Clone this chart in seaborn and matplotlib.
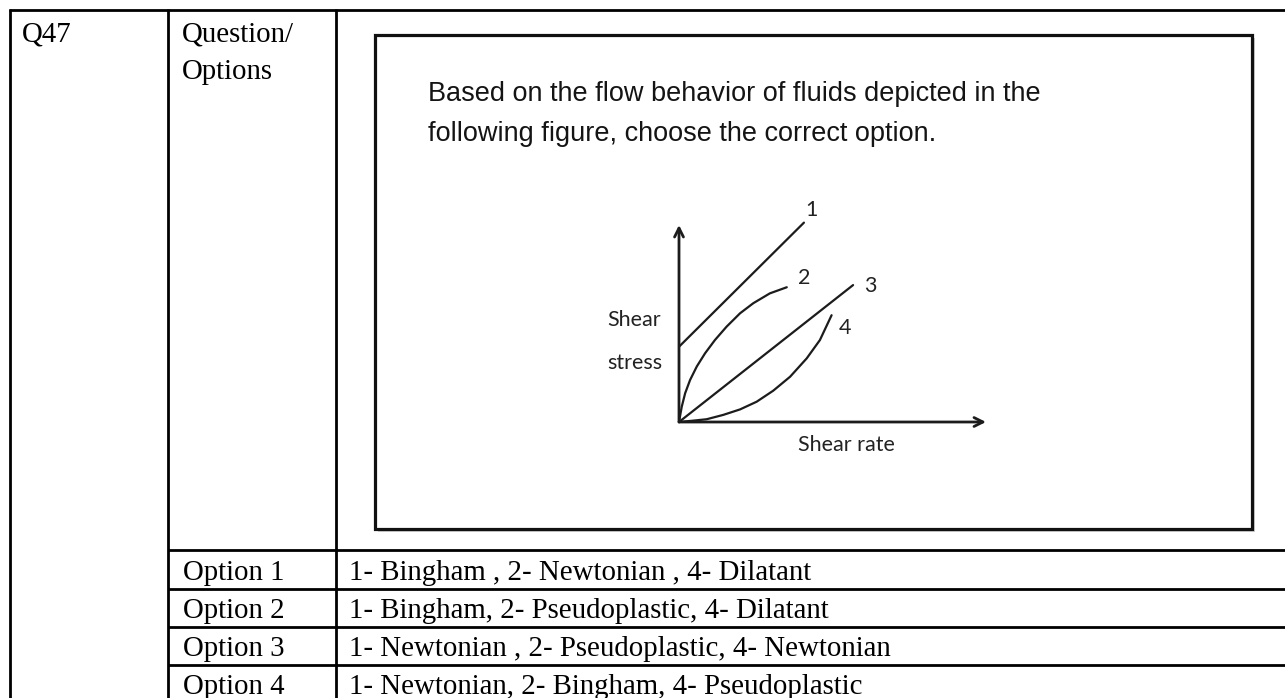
import pandas as pd
import matplotlib
matplotlib.use("Agg")
import matplotlib.pyplot as plt
import seaborn as sns
from matplotlib.patches import Rectangle

# Curve data (shear rate, shear stress), arbitrary units 0-10
bingham_rate = [0.0, 4.07]
bingham_stress = [3.82, 10.12]

pseudo_rate = [0.0, 0.09, 0.20, 0.36, 0.58, 0.85, 1.17, 1.55, 1.99, 2.42, 2.96, 3.51]
pseudo_stress = [0.0, 0.78, 1.46, 2.13, 2.82, 3.49, 4.16, 4.84, 5.52, 6.03, 6.53, 6.84]

newton_rate = [0.0, 5.67]
newton_stress = [0.0, 6.95]

dilat_rate = [0.0, 0.47, 0.90, 1.44, 1.99, 2.53, 3.07, 3.62, 4.16, 4.59, 4.97]
dilat_stress = [0.0, 0.07, 0.14, 0.36, 0.64, 1.03, 1.59, 2.30, 3.23, 4.16, 5.42]

curve_labels = ["1", "2", "3", "4"]
label_x = [4.33, 4.07, 6.22, 5.41]
label_y = [10.76, 7.31, 6.90, 4.77]

question_lines = ["Based on the flow behavior of fluids depicted in the",
                  "following figure, choose the correct option."]
option_names = ["Option 1", "Option 2", "Option 3", "Option 4"]
option_texts = ["1- Bingham , 2- Newtonian , 4- Dilatant",
                "1- Bingham, 2- Pseudoplastic, 4- Dilatant",
                "1- Newtonian , 2- Pseudoplastic, 4- Newtonian",
                "1- Newtonian, 2- Bingham, 4- Pseudoplastic"]

df = pd.concat([
    pd.DataFrame({"rate": bingham_rate, "stress": bingham_stress, "fluid": "1"}),
    pd.DataFrame({"rate": pseudo_rate, "stress": pseudo_stress, "fluid": "2"}),
    pd.DataFrame({"rate": newton_rate, "stress": newton_stress, "fluid": "3"}),
    pd.DataFrame({"rate": dilat_rate, "stress": dilat_stress, "fluid": "4"}),
], ignore_index=True)

sns.set_theme(style="white")
plt.rcParams["text.color"] = "black"

W, H = 1285, 698
fig = plt.figure(figsize=(W / 100, H / 100), dpi=100)
fig.patch.set_facecolor("white")

# page canvas in pixel coordinates
ax0 = fig.add_axes([0, 0, 1, 1])
ax0.set_xlim(0, W)
ax0.set_ylim(H, 0)
ax0.axis("off")

lw_tab = 2.0
ax0.hlines(10, 9, W, color="black", lw=lw_tab)
ax0.vlines([10, 168, 336], 9, H, color="black", lw=lw_tab)
ax0.hlines([550, 589, 627, 665], 168, W, color="black", lw=lw_tab)

serif = "Liberation Serif"
fs_tab = 20.8
ax0.text(22, 42, "Q47", family=serif, fontsize=fs_tab, va="baseline")
ax0.text(182, 42, "Question/", family=serif, fontsize=fs_tab, va="baseline")
ax0.text(182, 79, "Options", family=serif, fontsize=fs_tab, va="baseline")
for i, (name, txt) in enumerate(zip(option_names, option_texts)):
    base = 580 + i * 38
    ax0.text(183, base, name, family=serif, fontsize=fs_tab, va="baseline")
    ax0.text(349, base, txt, family=serif, fontsize=fs_tab, va="baseline")

# picture frame with soft shadow on the lower right
ax0.add_patch(Rectangle((378, 38), 877, 494, fc="#d0d0d0", ec="none"))
ax0.add_patch(Rectangle((375, 35), 877, 494, fc="white", ec="#111111", lw=2.3))

for j, line in enumerate(question_lines):
    ax0.text(428, 101 + j * 40, line, family="Liberation Sans", fontsize=19.5,
             color="#141414", va="baseline")

lab_font = "Lato"
ax0.text(607, 320, "Shear", family=lab_font, fontsize=15.5, color="#222222", va="center")
ax0.text(607, 363, "stress", family=lab_font, fontsize=15.5, color="#222222", va="center")
ax0.text(798, 445, "Shear rate", family=lab_font, fontsize=15.5, color="#222222", va="center")

# the rheology sketch
ax = fig.add_axes([679 / W, 1 - 422 / H, 307 / W, 197 / H])
ax.set_xlim(0, 10)
ax.set_ylim(0, 10)
ax.axis("off")
sns.lineplot(data=df, x="rate", y="stress", hue="fluid", units="fluid", estimator=None,
             sort=False, palette=["#1c1c1c"] * 4, lw=1.6, legend=False, ax=ax)
for line in ax.lines:
    line.set_clip_on(False)
    line.set_solid_joinstyle("round")
for lab, lx, ly in zip(curve_labels, label_x, label_y):
    ax.text(lx, ly, lab, family=lab_font, fontsize=15.5, color="#222222",
            ha="center", va="center", clip_on=False)

arrow = dict(arrowstyle="->", lw=2.0, color="#1c1c1c", shrinkA=0, shrinkB=0,
             mutation_scale=16)
ax.annotate("", xy=(10, 0), xytext=(0, 0), arrowprops=arrow, annotation_clip=False)
ax.annotate("", xy=(0, 10), xytext=(0, 0), arrowprops=arrow, annotation_clip=False)

fig.savefig("out.png", dpi=100, facecolor="white")
